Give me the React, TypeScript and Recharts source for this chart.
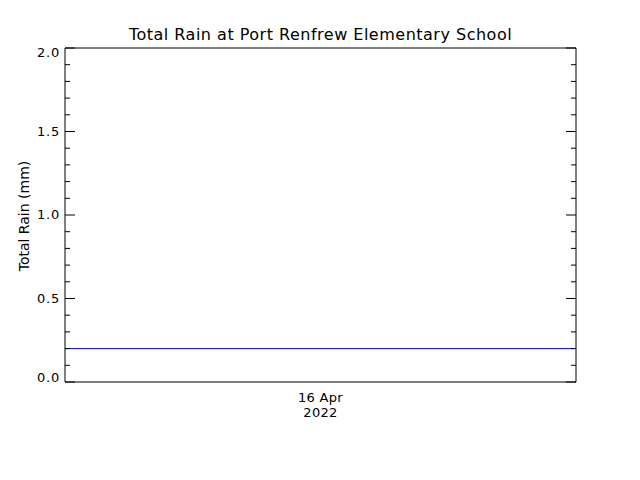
import { Line, LineChart, XAxis, YAxis, Label } from "recharts";

// hours since the start of the plotted day window
const hours = [0, 24];
const totalRain = [0.2, 0.2];

const yTicks = [0, 0.1, 0.2, 0.3, 0.4, 0.5, 0.6, 0.7, 0.8, 0.9, 1.0, 1.1, 1.2, 1.3, 1.4, 1.5, 1.6, 1.7, 1.8, 1.9, 2.0];
const xTicks = [12];
const xTickLabels = ["16 Apr", "2022"];

const title = "Total Rain at Port Renfrew Elementary School";
const yTitle = "Total Rain (mm)";

const data = hours.map((h, i) => ({ hour: h, rain: totalRain[i] }));

const FONT = "'DejaVu Sans', sans-serif";

function isMajor(v: number) {
  return Math.abs(v * 2 - Math.round(v * 2)) < 1e-6;
}

function LeftTick(props: any) {
  const { x, y, payload } = props;
  const v = payload.value as number;
  const major = isMajor(v);
  let dy = 4;
  if (v === 2) dy = 9;
  if (v === 0) dy = 0;
  return (
    <g>
      <line x1={x} x2={x + (major ? 10 : 5)} y1={y} y2={y} stroke="#000" />
      {major && (
        <text x={x - 5} y={y + dy} textAnchor="end" fontSize={13} letterSpacing={0.8} fontFamily={FONT} fill="#000">
          {v.toFixed(1)}
        </text>
      )}
    </g>
  );
}

function RightTick(props: any) {
  const { x, y, payload } = props;
  const major = isMajor(payload.value);
  return <line x1={x} x2={x - (major ? 10 : 5)} y1={y} y2={y} stroke="#000" />;
}

function BottomTick(props: any) {
  const { x, y } = props;
  return (
    <g>
      {xTickLabels.map((t, i) => (
        <text key={t} x={x} y={y + 20 + i * 15} textAnchor="middle" fontSize={13} letterSpacing={0.3} fontFamily={FONT} fill="#000">
          {t}
        </text>
      ))}
    </g>
  );
}

export default function App() {
  return (
    <div style={{ position: "absolute", left: 0, top: 0, width: 640, height: 480, background: "#fff" }}>
      <LineChart width={640} height={480} data={data} margin={{ top: 0, right: 0, bottom: 0, left: 0 }}>
        <XAxis
          xAxisId="bottom"
          dataKey="hour"
          type="number"
          domain={[0, 24]}
          ticks={xTicks}
          height={98}
          tickSize={0}
          tickMargin={0}
          tickLine={false}
          axisLine={{ stroke: "#000" }}
          tick={<BottomTick />}
        />
        <XAxis
          xAxisId="top"
          orientation="top"
          dataKey="hour"
          type="number"
          domain={[0, 24]}
          height={48}
          tick={false}
          tickLine={false}
          axisLine={{ stroke: "#000" }}
        >
          <Label
            content={(p: any) => (
              <text
                x={p.viewBox.x + p.viewBox.width / 2}
                y={p.viewBox.y + p.viewBox.height - 8}
                textAnchor="middle"
                fontSize={16}
                letterSpacing={0.5}
                fontFamily={FONT}
                fill="#000"
              >
                {title}
              </text>
            )}
          />
        </XAxis>
        <YAxis
          yAxisId="left"
          domain={[0, 2]}
          ticks={yTicks}
          interval={0}
          width={65}
          tickSize={0}
          tickMargin={0}
          tickLine={false}
          axisLine={{ stroke: "#000" }}
          tick={<LeftTick />}
        >
          <Label
            content={() => (
              <text
                x={29}
                y={216}
                transform="rotate(-90 29 216)"
                textAnchor="middle"
                fontSize={14}
                fontFamily={FONT}
                fill="#000"
              >
                {yTitle}
              </text>
            )}
          />
        </YAxis>
        <YAxis
          yAxisId="right"
          orientation="right"
          domain={[0, 2]}
          ticks={yTicks}
          interval={0}
          width={64}
          tickSize={0}
          tickMargin={0}
          tickLine={false}
          axisLine={{ stroke: "#000" }}
          tick={<RightTick />}
        />
        <Line
          xAxisId="bottom"
          yAxisId="right"
          dataKey="rain"
          stroke="none"
          dot={false}
          activeDot={false}
          isAnimationActive={false}
        />
        <Line
          xAxisId="bottom"
          yAxisId="left"
          dataKey="rain"
          type="linear"
          stroke="#0000ff"
          strokeWidth={1}
          dot={false}
          isAnimationActive={false}
        />
      </LineChart>
    </div>
  );
}
